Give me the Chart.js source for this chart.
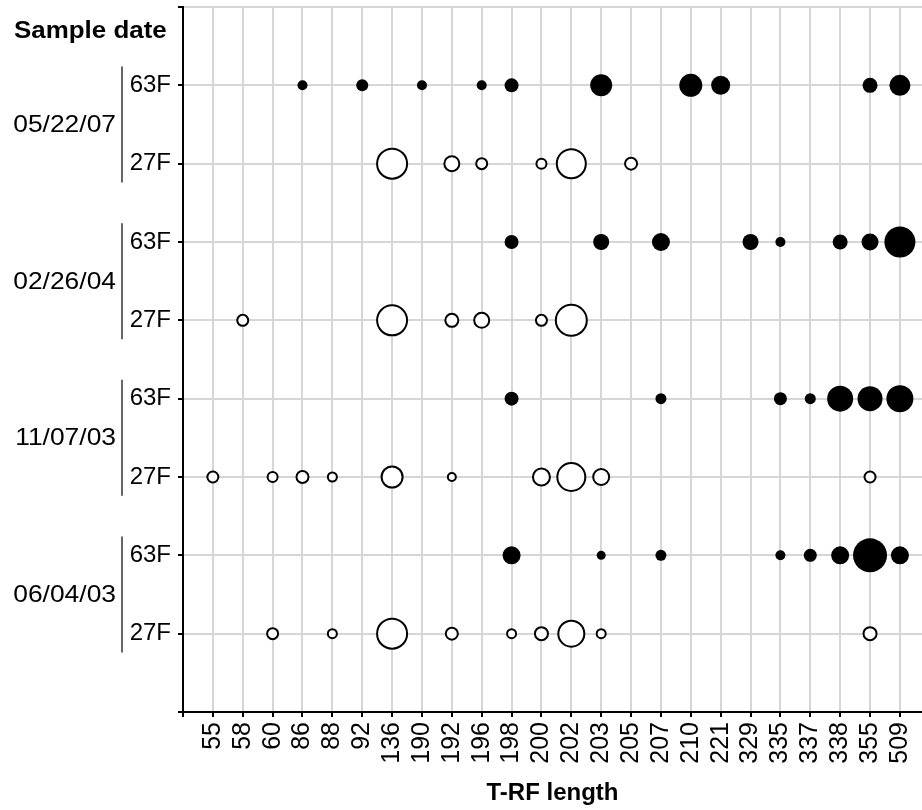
<!DOCTYPE html>
<html>
<head>
<meta charset="utf-8">
<script src="https://cdn.jsdelivr.net/npm/chart.js@4/dist/chart.umd.min.js"></script>
<style>
  html, body { margin: 0; padding: 0; background: #fff; }
  #wrap { width: 922px; height: 810px; position: relative; }
</style>
</head>
<body>
<div id="wrap"><canvas id="trfChart"></canvas></div>
<script>
// T-RF lengths (x categories)
const trfLengths = ['55', '58', '60', '86', '88', '92', '136', '190', '192', '196', '198', '200',
    '202', '203', '205', '207', '210', '221', '329', '335', '337', '338', '355', '509'];
const sampleDates = ['05/22/07', '02/26/04', '11/07/03', '06/04/03'];
const fractions = ['63F', '27F'];

// peak abundance per T-RF (bubble radius units), 0 = not detected
const f63_052207 = [0, 0, 0, 5, 0, 6, 0, 5, 0, 5, 7, 0, 0, 11, 0, 0, 11.5, 9.5, 0, 0, 0, 0, 7.5, 10.5];
const f27_052207 = [0, 0, 0, 0, 0, 0, 16, 0, 8.5, 6.5, 0, 6, 15.5, 0, 7, 0, 0, 0, 0, 0, 0, 0, 0, 0];
const f63_022604 = [0, 0, 0, 0, 0, 0, 0, 0, 0, 0, 7, 0, 0, 8, 0, 9, 0, 0, 8, 5, 0, 7.5, 8.5, 15.5];
const f27_022604 = [0, 6.5, 0, 0, 0, 0, 16, 0, 7.5, 8.5, 0, 6.5, 16.5, 0, 0, 0, 0, 0, 0, 0, 0, 0, 0, 0];
const f63_110703 = [0, 0, 0, 0, 0, 0, 0, 0, 0, 0, 7, 0, 0, 0, 0, 5.5, 0, 0, 0, 6.5, 5.5, 13, 12.5, 13.5];
const f27_110703 = [6.5, 0, 6, 7, 5.5, 0, 11.5, 0, 5, 0, 0, 9.5, 15, 9, 0, 0, 0, 0, 0, 0, 0, 0, 6.5, 0];
const f63_060403 = [0, 0, 0, 0, 0, 0, 0, 0, 0, 0, 9, 0, 0, 4.5, 0, 5.5, 0, 0, 0, 5, 6.5, 9, 17, 9];
const f27_060403 = [0, 0, 6.5, 0, 5.5, 0, 16, 0, 7, 0, 5.5, 7.5, 14, 5.5, 0, 0, 0, 0, 0, 0, 0, 0, 7.5, 0];

const rows63 = [f63_052207, f63_022604, f63_110703, f63_060403];
const rows27 = [f27_052207, f27_022604, f27_110703, f27_060403];

const FONT = "'Liberation Sans', Arial, sans-serif";

// turn the arrays into bubble points; row 2*i = 63F, row 2*i+1 = 27F
const toPoints = (rows, offset, shrink) => {
    const pts = [];
    rows.forEach((vals, i) => {
        vals.forEach((v, j) => {
            if (v > 0) pts.push({x: j, y: i * 2 + offset, r: v - shrink});
        });
    });
    return pts;
};

// text slightly wider than the font, like the original figure
const wideText = (ctx, text, x, y, sx) => {
    ctx.save();
    ctx.translate(x, y);
    ctx.scale(sx, 1);
    ctx.fillText(text, 0, 0);
    ctx.restore();
};

// date labels + brackets + "Sample date"
const sampleLabels = {
    id: 'sampleLabels',
    afterDraw(chart) {
        const ctx = chart.ctx;
        const y = chart.scales.y;
        ctx.save();
        ctx.fillStyle = '#000';
        ctx.font = 'bold 24px ' + FONT;
        ctx.textAlign = 'left';
        ctx.textBaseline = 'alphabetic';
        wideText(ctx, 'Sample date', 14, 38, 1.08);

        ctx.font = '24px ' + FONT;
        ctx.textAlign = 'right';
        ctx.textBaseline = 'middle';
        sampleDates.forEach((d, i) => {
            const mid = (y.getPixelForValue(i * 2) + y.getPixelForValue(i * 2 + 1)) / 2;
            const half = Math.abs(y.getPixelForValue(1) - y.getPixelForValue(0)) * 0.74;
            wideText(ctx, d, 116, mid + 1, 1.1);
            ctx.strokeStyle = '#333';
            ctx.lineWidth = 1.5;
            ctx.beginPath();
            ctx.moveTo(122, mid - half);
            ctx.lineTo(122, mid + half);
            ctx.stroke();
        });
        ctx.restore();
    }
};

const ctx = document.getElementById('trfChart').getContext('2d');
const trfChart = new Chart(ctx, {
    type: 'bubble',
    data: {
        datasets: [{
            label: '63F',
            data: toPoints(rows63, 0, 0),
            backgroundColor: '#000',
            borderColor: '#000',
            borderWidth: 0
        }, {
            label: '27F',
            data: toPoints(rows27, 1, 1),
            backgroundColor: '#fff',
            borderColor: '#000',
            borderWidth: 2
        }]
    },
    options: {
        responsive: true,
        maintainAspectRatio: false,
        animation: false,
        events: [],
        layout: {autoPadding: false, padding: {top: 7, right: 0, bottom: 0, left: 0}},
        plugins: {
            legend: {display: false},
            tooltip: {enabled: false}
        },
        scales: {
            x: {
                type: 'linear',
                min: -1,
                max: 23.74,
                grid: {color: '#d6d6d6', lineWidth: 2, tickColor: '#000', tickLength: 5, tickWidth: 2},
                border: {color: '#000', width: 2},
                ticks: {
                    stepSize: 1,
                    includeBounds: false,
                    autoSkip: false,
                    minRotation: 90,
                    maxRotation: 90,
                    padding: 5,
                    color: '#000',
                    font: {family: FONT, size: 25},
                    callback: v => trfLengths[v] ?? ''
                },
                title: {
                    display: true,
                    text: 'T-RF length',
                    color: '#000',
                    font: {family: FONT, size: 24, weight: 'bold'},
                    padding: {top: 0, bottom: 2}
                },
                afterFit: s => { s.height = 98; s.paddingLeft = 0; s.paddingRight = 0; }
            },
            y: {
                type: 'linear',
                reverse: true,
                min: -1,
                max: 8,
                grid: {color: '#d6d6d6', lineWidth: 2, tickColor: '#000', tickLength: 5, tickWidth: 2},
                border: {color: '#000', width: 2},
                ticks: {
                    stepSize: 1,
                    padding: 7,
                    color: '#000',
                    font: {family: FONT, size: 24},
                    callback: v => (v >= 0 && v <= 7) ? fractions[v % 2] : ''
                },
                afterFit: s => { s.width = 183; s.paddingTop = 0; s.paddingBottom = 0; }
            }
        }
    },
    plugins: [sampleLabels]
});
</script>
</body>
</html>
